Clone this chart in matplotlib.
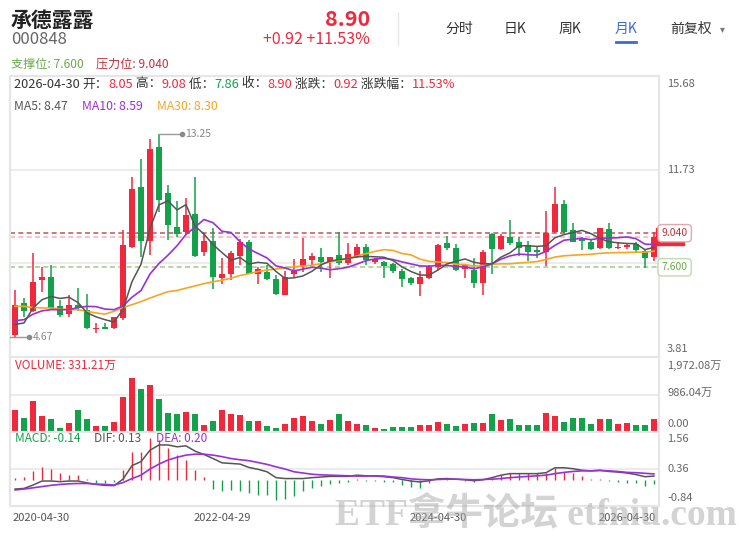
import numpy as np
import pandas as pd
import matplotlib
matplotlib.use('Agg')
import matplotlib.pyplot as plt
from matplotlib.lines import Line2D

plt.rcParams['font.family'] = ['Noto Sans CJK SC', 'DejaVu Sans']

W, H = 739, 536
RED = '#f0283c'
GREEN = '#13a24b'
PURPLE = '#9b2fd8'
ORANGE = '#f5a623'
DARK = '#555555'
GRID = '#ececec'

# monthly candles 2020-05 .. 2026-04
opens = [4.76, 6.09, 5.74, 7.07, 7.21, 5.97, 5.62, 6.02, 5.81, 4.98,
         5.08, 5.04, 5.46, 8.47, 10.99, 8.70, 12.67, 10.73, 9.31, 9.07,
         9.87, 8.23, 8.72, 7.14, 7.33, 8.07, 8.68, 7.30, 7.42, 7.11,
         6.45, 7.33, 7.67, 7.91, 8.05, 7.84, 8.12, 7.77, 8.07, 8.47,
         7.84, 7.84, 7.73, 7.45, 7.14, 6.90, 7.14, 7.63, 8.61, 8.40,
         7.52, 7.49, 6.93, 9.00, 8.37, 8.89, 8.68, 8.54, 8.33, 8.23,
         9.10, 10.26, 9.17, 8.82, 8.68, 8.40, 9.20, 8.40, 8.44, 8.58,
         8.30, 8.05]
closes = [6.02, 5.74, 6.99, 7.21, 5.88, 5.60, 5.99, 5.87, 5.04, 5.03,
          5.00, 5.49, 8.54, 10.92, 8.70, 12.60, 10.43, 9.38, 9.00, 9.82,
          8.07, 8.72, 7.18, 7.31, 8.19, 8.68, 7.33, 7.53, 7.11, 6.47,
          7.21, 7.45, 7.94, 8.09, 7.81, 8.02, 7.77, 8.14, 8.47, 7.90,
          7.94, 7.67, 7.45, 7.11, 6.93, 7.21, 7.63, 8.54, 8.40, 7.49,
          7.70, 6.93, 8.23, 8.37, 8.91, 8.61, 8.40, 8.26, 8.23, 9.05,
          10.29, 9.07, 8.68, 8.70, 8.37, 9.24, 8.40, 8.47, 8.54, 8.33,
          7.98, 8.90]
highs = [6.65, 6.30, 8.19, 7.63, 7.70, 6.23, 6.44, 6.72, 6.47, 5.25,
         5.25, 5.52, 9.17, 11.41, 12.18, 13.02, 13.25, 11.06, 10.40, 10.52,
         11.41, 9.03, 9.26, 7.98, 8.29, 8.79, 8.75, 7.62, 7.70, 7.27,
         7.45, 7.95, 8.82, 8.19, 8.40, 8.05, 9.10, 8.64, 8.58, 8.58,
         7.99, 7.88, 7.77, 7.52, 7.18, 7.45, 7.70, 8.58, 8.91, 8.58,
         7.73, 7.98, 8.33, 9.03, 8.99, 9.59, 8.89, 8.72, 8.44, 9.98,
         10.99, 10.46, 9.47, 8.89, 8.75, 9.24, 9.45, 8.68, 8.61, 8.68,
         8.33, 9.08]
lows = [4.67, 5.52, 5.70, 6.57, 5.80, 5.52, 5.52, 5.74, 4.98, 4.83,
        4.98, 4.98, 5.39, 8.40, 8.05, 8.12, 9.94, 8.75, 8.90, 8.96,
        8.05, 8.07, 6.68, 6.89, 7.08, 7.70, 7.30, 6.89, 7.08, 6.42,
        6.42, 7.18, 7.42, 7.70, 7.42, 7.14, 7.70, 7.70, 7.99, 7.70,
        7.73, 7.14, 7.35, 6.78, 6.85, 6.40, 7.09, 7.49, 8.31, 7.46,
        7.14, 6.72, 6.44, 7.32, 8.33, 8.54, 8.07, 7.88, 7.99, 7.65,
        9.03, 9.03, 8.65, 8.33, 8.33, 8.37, 8.37, 8.37, 8.38, 8.26,
        7.56, 7.86]
volume = [586, 381, 826, 426, 346, 107, 240, 586, 346, 150,
          168, 266, 933, 1420, 1127, 1234, 861, 506, 461, 533,
          461, 195, 301, 568, 461, 434, 301, 301, 168, 107,
          221, 381, 416, 301, 221, 328, 461, 301, 221, 195,
          107, 88, 142, 142, 142, 177, 195, 266, 221, 168,
          221, 248, 248, 461, 328, 346, 195, 195, 195, 488,
          408, 275, 381, 363, 221, 346, 346, 221, 248, 177,
          177, 331.21]

# MA values at the left edge (earlier history not shown)
ma5_head = [5.18, 5.25, 5.88, 6.23]
ma10_head = [5.34, 5.39, 5.62, 5.76, 5.81, 5.81, 5.81, 5.90, 5.95]
ma30_head = [5.95, 5.95, 5.90, 5.88, 5.88, 5.83, 5.81, 5.81, 5.74, 5.67,
             5.62, 5.74, 5.90, 6.02, 6.15, 6.30, 6.44, 6.57, 6.62, 6.72,
             6.81, 6.91, 6.99, 7.05, 7.14, 7.25, 7.33, 7.42, 7.48]
ma_latest = {'MA5': 8.47, 'MA10': 8.59, 'MA30': 8.30}

dif = [-0.29, -0.27, -0.16, -0.03, -0.03, -0.05, -0.03, -0.03, -0.09, -0.14,
       -0.17, -0.18, 0.03, 0.47, 0.60, 0.97, 1.14, 1.14, 1.08, 1.11,
       0.94, 0.83, 0.70, 0.56, 0.54, 0.52, 0.41, 0.35, 0.27, 0.08,
       0.05, 0.05, 0.05, 0.08, 0.10, 0.12, 0.12, 0.12, 0.16, 0.14,
       0.13, 0.11, 0.08, 0.02, -0.03, -0.06, -0.02, 0.04, 0.05, 0.03,
       0.01, -0.02, 0.01, 0.08, 0.16, 0.21, 0.21, 0.21, 0.21, 0.24,
       0.40, 0.40, 0.37, 0.32, 0.30, 0.32, 0.28, 0.26, 0.23, 0.18,
       0.11, 0.13]
dea = [-0.32, -0.29, -0.25, -0.21, -0.17, -0.14, -0.12, -0.11, -0.11, -0.13,
       -0.14, -0.16, -0.08, 0.05, 0.16, 0.36, 0.52, 0.65, 0.74, 0.81,
       0.84, 0.84, 0.81, 0.76, 0.70, 0.66, 0.63, 0.57, 0.51, 0.43,
       0.36, 0.27, 0.23, 0.19, 0.17, 0.16, 0.15, 0.14, 0.13, 0.13,
       0.14, 0.13, 0.10, 0.08, 0.04, 0.02, 0.01, 0.02, 0.03, 0.03,
       0.02, 0.01, 0.02, 0.03, 0.05, 0.08, 0.10, 0.12, 0.14, 0.16,
       0.21, 0.25, 0.28, 0.30, 0.30, 0.31, 0.30, 0.28, 0.25, 0.24,
       0.22, 0.20]
macd_hist = [0.07, 0.10, 0.29, 0.41, 0.36, 0.23, 0.18, 0.16, 0.03, -0.08,
             -0.08, -0.05, 0.32, 0.90, 0.92, 1.35, 1.30, 1.03, 0.83, 0.65,
             0.32, 0.11, -0.29, -0.36, -0.32, -0.36, -0.43, -0.47, -0.49, -0.63,
             -0.60, -0.51, -0.36, -0.25, -0.18, -0.14, -0.09, -0.05, 0.03, -0.03,
             -0.03, -0.05, -0.05, -0.16, -0.22, -0.25, -0.11, 0.01, 0.05, 0.01,
             -0.02, -0.05, 0.01, 0.08, 0.18, 0.22, 0.22, 0.22, 0.22, 0.24,
             0.40, 0.27, 0.22, 0.14, 0.05, 0.05, -0.03, -0.05, -0.08, -0.11,
             -0.18, -0.14]

date_idx = [-1, 23, 47, 71]
date_labels = ['2020-04-30', '2022-04-29', '2024-04-30', '2026-04-30']
price_ticks = [15.68, 11.73, 7.77, 3.81]
vol_ticks = [1972.08, 986.04, 0.0]
vol_tick_labels = ['1,972.08万', '986.04万', '0.00']
macd_ticks = [1.56, 0.36, -0.84]
support, pressure, last_price = 7.600, 9.040, 8.90

o = np.array(opens); c = np.array(closes)
hi = np.array(highs); lo = np.array(lows)
x = np.arange(len(c))
up = c >= o
col = np.where(up, RED, GREEN)

cs = pd.Series(c)
ma5 = cs.rolling(5).mean().to_numpy()
ma5[:len(ma5_head)] = ma5_head
ma10 = cs.rolling(10).mean().to_numpy()
ma10[:len(ma10_head)] = ma10_head
ma30 = cs.rolling(30).mean().to_numpy()
ma30[:len(ma30_head)] = ma30_head

fig = plt.figure(figsize=(W / 100, H / 100), dpi=100)


def box(x0, y0, x1, y1):
    return [x0 / W, 1 - y1 / H, (x1 - x0) / W, (y1 - y0) / H]


def fx(px):
    return px / W


def fy(py):
    return 1 - py / H


ax_p = fig.add_axes(box(10, 76, 659, 357))
ax_v = fig.add_axes(box(10, 357, 659, 432))
ax_m = fig.add_axes(box(10, 432, 659, 506))
for ax in (ax_p, ax_v, ax_m):
    ax.set_xlim(-0.56, len(c) - 0.44)
    ax.set_xticks([]); ax.set_yticks([])
    for s in ax.spines.values():
        s.set_color('#e6e6e6'); s.set_linewidth(1.5)

# ---- price panel
ax_p.set_ylim(price_ticks[-1], price_ticks[0])
for v in price_ticks[1:3]:
    ax_p.axhline(v, color=GRID, lw=1.5, zorder=0)
ax_p.axhline(pressure, color='#c0626b', lw=1.2, dashes=(3, 2), zorder=1)
ax_p.axhline(last_price, color='#f7b8be', lw=1.2, dashes=(3, 2), zorder=1)
ax_p.axhline(support, color='#a9d08e', lw=1.2, dashes=(3, 2), zorder=1)

ax_p.vlines(x, lo, hi, colors=col, lw=1.1, zorder=2)
ax_p.bar(x, np.maximum(np.abs(c - o), 0.04), bottom=np.minimum(o, c), width=0.7,
         color=col, zorder=3)
ax_p.plot(x, ma30, color=ORANGE, lw=1.2, zorder=4)
ax_p.plot(x, ma10, color=PURPLE, lw=1.2, zorder=4)
ax_p.plot(x, ma5, color=DARK, lw=1.1, zorder=4)

hi_i = int(np.argmax(hi)); lo_i = int(np.argmin(lo))
ax_p.plot([hi_i, hi_i + 2.55], [hi[hi_i]] * 2, color='#9a9a9a', lw=1, zorder=5)
ax_p.plot(hi_i + 2.55, hi[hi_i], 'o', ms=3, color='#8a8a8a', zorder=5)
ax_p.text(hi_i + 2.95, hi[hi_i], f'{hi[hi_i]:.2f}', va='center', fontsize=7.5, color='#888888')
ax_p.plot([lo_i - 0.6, lo_i + 1.55], [lo[lo_i]] * 2, color='#9a9a9a', lw=1, zorder=5)
ax_p.plot(lo_i + 1.55, lo[lo_i], 'o', ms=3, color='#8a8a8a', zorder=5)
ax_p.text(lo_i + 1.95, lo[lo_i], f'{lo[lo_i]:.2f}', va='center', fontsize=7.5, color='#888888')

ytr = ax_p.get_yaxis_transform()
for v, va, dy in zip(price_ticks, ['top', 'center', 'center', 'bottom'], [-3, 0, 0, 3]):
    ax_p.annotate(f'{v:.2f}', xy=(1, v), xycoords=ytr, xytext=(8, dy), textcoords='offset pixels',
                  ha='left', va=va, fontsize=8, color='#666666', annotation_clip=False)
ax_p.text(1.0015, last_price, f'{last_price:.2f}', transform=ytr, ha='left', va='center',
          fontsize=7.5, color='white', zorder=10, clip_on=False,
          bbox=dict(boxstyle='square,pad=0.35', fc=RED, ec=RED))
ax_p.text(1.004, pressure, f'{pressure:.3f}', transform=ytr, ha='left', va='center',
          fontsize=7.5, color='#c0313b', zorder=11, clip_on=False,
          bbox=dict(boxstyle='round,pad=0.35', fc='white', ec='#eaa5ab', lw=1))
ax_p.text(1.004, support, f'{support:.3f}', transform=ytr, ha='left', va='center',
          fontsize=7.5, color='#6aaa4c', zorder=11, clip_on=False,
          bbox=dict(boxstyle='round,pad=0.35', fc='white', ec='#bfdcaa', lw=1))

# ---- volume panel
ax_v.set_ylim(0, vol_ticks[0])
ax_v.axhline(vol_ticks[1], color=GRID, lw=1.5, zorder=0)
ax_v.bar(x, volume, width=0.76, color=col, zorder=2)
ytr_v = ax_v.get_yaxis_transform()
for v, s, va, dy in zip(vol_ticks, vol_tick_labels, ['top', 'center', 'bottom'], [-3, 2, 3]):
    ax_v.annotate(s, xy=(1, v), xycoords=ytr_v, xytext=(8, dy), textcoords='offset pixels',
                  ha='left', va=va, fontsize=8, color='#666666', annotation_clip=False)

# ---- MACD panel
ax_m.set_ylim(macd_ticks[-1], macd_ticks[0])
ax_m.axhline(macd_ticks[1], color=GRID, lw=1.5, zorder=0)
mh = np.array(macd_hist)
ax_m.vlines(x, 0, mh, colors=np.where(mh >= 0, RED, GREEN), lw=1, zorder=2)
ax_m.plot(x, dif, color=DARK, lw=1.1, zorder=3)
ax_m.plot(x, dea, color=PURPLE, lw=1.2, zorder=3)
ytr_m = ax_m.get_yaxis_transform()
for v, va, dy in zip(macd_ticks, ['top', 'center', 'bottom'], [-2, 0, 3]):
    ax_m.annotate(f'{v:.2f}', xy=(1, v), xycoords=ytr_m, xytext=(8, dy), textcoords='offset pixels',
                  ha='left', va=va, fontsize=8, color='#666666', annotation_clip=False)

xtr = ax_m.get_xaxis_transform()
for i, s in zip(date_idx, date_labels):
    if i < 0:
        ax_m.annotate(s, xy=(0, 0), xycoords='axes fraction', xytext=(3, -7), textcoords='offset pixels',
                      ha='left', va='top', fontsize=8, color='#555555', annotation_clip=False)
    elif i == date_idx[-1]:
        ax_m.annotate(s, xy=(i, 0), xycoords=xtr, xytext=(2, -7), textcoords='offset pixels',
                      ha='right', va='top', fontsize=8, color='#555555', annotation_clip=False)
    else:
        ax_m.annotate(s, xy=(i, 0), xycoords=xtr, xytext=(0, -7), textcoords='offset pixels',
                      ha='center', va='top', fontsize=8, color='#555555', annotation_clip=False)


# ---- header texts
def rich(px, py, parts, size):
    t = fig.text(fx(px), fy(py), parts[0][0], color=parts[0][1], fontsize=size, va='center', ha='left')
    for s, cc in parts[1:]:
        t = ax_p.annotate(s, xy=(1, 0.5), xycoords=t, va='center', ha='left', color=cc,
                          fontsize=size, annotation_clip=False)


fig.text(fx(11), fy(20), '承德露露', fontsize=15, fontweight='bold', color='#222222', va='center')
fig.text(fx(11), fy(40), '000848', fontsize=12, color='#666666', va='center')
fig.text(fx(370), fy(19), f'{last_price:.2f}', fontsize=15.5, fontweight='bold', color=RED,
         va='center', ha='right')
fig.text(fx(370), fy(40), '+0.92 +11.53%', fontsize=11.5, color=RED, va='center', ha='right')
fig.text(fx(11), fy(64), f'支撑位: {support:.3f}', fontsize=8.7, color='#6aaa4c', va='center')
fig.text(fx(96), fy(64), f'压力位: {pressure:.3f}', fontsize=8.7, color='#c0313b', va='center')

for s, px in zip(['分时', '日K', '周K', '月K', '前复权'], [459, 515, 570, 626, 691]):
    fig.text(fx(px), fy(29), s, fontsize=10, color='#3a6bd6' if s == '月K' else '#333333',
             va='center', ha='center')
fig.text(fx(722), fy(29), '▾', fontsize=7, color='#777777', va='center', ha='center')
fig.add_artist(Line2D([fx(616), fx(636)], [fy(41.5)] * 2, color='#3a6bd6', lw=2))
fig.add_artist(Line2D([fx(398)] * 2, [fy(13), fy(45)], color='#e6e6e6', lw=1))

rich(14, 84, [('2026-04-30 ', '#333333'), ('开：', '#333333'), ('8.05', RED), (' 高：', '#333333'),
              ('9.08', RED), (' 低：', '#333333'), ('7.86', GREEN), (' 收：', '#333333'),
              ('8.90', RED), (' 涨跌：', '#333333'), ('0.92', RED), (' 涨跌幅：', '#333333'),
              ('11.53%', RED)], 9.2)
for (name, val), px, cc in zip(ma_latest.items(), [14, 82, 157], [DARK, PURPLE, ORANGE]):
    fig.text(fx(px), fy(106), f'{name}: {val:.2f}', fontsize=8.8, color=cc, va='center')

fig.text(fx(15), fy(365), f'VOLUME: {volume[-1]:.2f}万', fontsize=8.5, color=RED, va='center')
fig.text(fx(15), fy(438), f'MACD: {macd_hist[-1]:.2f}', fontsize=8.5, color=GREEN, va='center')
fig.text(fx(94), fy(438), f'DIF: {dif[-1]:.2f}', fontsize=8.5, color=DARK, va='center')
fig.text(fx(156), fy(438), f'DEA: {dea[-1]:.2f}', fontsize=8.5, color=PURPLE, va='center')

# watermark
fig.text(fx(335), fy(515), 'ETF拿牛论坛 etfniu.com', fontsize=27, fontweight='bold',
         family=['Liberation Serif', 'Noto Sans CJK SC'], color='#a8a8a8', alpha=0.5,
         va='center', ha='left', zorder=20)

fig.savefig('out.png', dpi=100, facecolor='white')
